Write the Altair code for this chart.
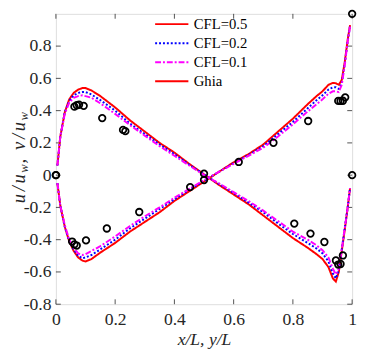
import altair as alt
import pandas as pd

# shared abscissa of the simulated profiles
grid_x = [0.005, 0.015, 0.03, 0.045, 0.06, 0.075, 0.09, 0.1, 0.12, 0.15, 0.2, 0.25, 0.3,
          0.35, 0.4, 0.45, 0.5, 0.55, 0.6, 0.65, 0.7, 0.75, 0.8, 0.85, 0.88, 0.9, 0.92,
          0.935, 0.945, 0.955, 0.965, 0.975, 0.985, 0.993]

u_cfl05 = [-0.05, -0.19, -0.32, -0.41, -0.47, -0.51, -0.53, -0.535, -0.52, -0.48, -0.42, -0.35,
           -0.29, -0.23, -0.16, -0.10, -0.04, 0.02, 0.08, 0.13, 0.19, 0.27, 0.35, 0.44, 0.49,
           0.52, 0.56, 0.572, 0.57, 0.56, 0.59, 0.70, 0.84, 0.93]
v_cfl05 = [0.06, 0.24, 0.39, 0.47, 0.51, 0.53, 0.54, 0.54, 0.525, 0.49, 0.42, 0.34, 0.27, 0.20,
           0.14, 0.07, 0.005, -0.06, -0.12, -0.18, -0.25, -0.32, -0.39, -0.45, -0.49, -0.52,
           -0.57, -0.64, -0.66, -0.60, -0.47, -0.34, -0.20, -0.08]

u_cfl02 = [-0.05, -0.19, -0.32, -0.41, -0.46, -0.50, -0.515, -0.51, -0.495, -0.46, -0.40, -0.33,
           -0.27, -0.21, -0.15, -0.09, -0.035, 0.02, 0.075, 0.125, 0.18, 0.255, 0.33, 0.415,
           0.465, 0.495, 0.53, 0.545, 0.545, 0.535, 0.57, 0.69, 0.83, 0.925]
v_cfl02 = [0.06, 0.24, 0.39, 0.46, 0.495, 0.51, 0.515, 0.515, 0.50, 0.465, 0.40, 0.32, 0.255,
           0.19, 0.13, 0.065, 0.005, -0.055, -0.11, -0.17, -0.23, -0.30, -0.365, -0.42, -0.455,
           -0.485, -0.535, -0.61, -0.64, -0.59, -0.46, -0.33, -0.20, -0.08]

u_cfl01 = [-0.05, -0.19, -0.31, -0.40, -0.45, -0.485, -0.495, -0.49, -0.47, -0.44, -0.38, -0.315,
           -0.255, -0.20, -0.14, -0.085, -0.03, 0.02, 0.07, 0.12, 0.17, 0.24, 0.315, 0.395,
           0.44, 0.47, 0.505, 0.52, 0.52, 0.515, 0.56, 0.68, 0.83, 0.92]
v_cfl01 = [0.06, 0.24, 0.38, 0.45, 0.48, 0.49, 0.495, 0.49, 0.48, 0.445, 0.38, 0.31, 0.245,
           0.18, 0.12, 0.06, 0.0, -0.05, -0.105, -0.16, -0.22, -0.285, -0.35, -0.40, -0.435,
           -0.465, -0.51, -0.58, -0.615, -0.58, -0.46, -0.33, -0.20, -0.08]

# Ghia reference points
ghia_y = [1.0, 0.9766, 0.9688, 0.9609, 0.9531, 0.8516, 0.7344, 0.6172, 0.5, 0.4531, 0.2813,
          0.1719, 0.1016, 0.0703, 0.0625, 0.0547, 0.0]
ghia_u = [1.0, 0.48223, 0.46120, 0.45992, 0.46036, 0.33556, 0.20087, 0.08183, -0.03039,
          -0.07404, -0.22855, -0.33050, -0.40435, -0.43643, -0.42901, -0.41165, 0.0]
ghia_x = [1.0, 0.9688, 0.9609, 0.9531, 0.9453, 0.9063, 0.8594, 0.8047, 0.5, 0.2344, 0.2266,
          0.1563, 0.0938, 0.0781, 0.0703, 0.0625, 0.0]
ghia_v = [0.0, -0.49774, -0.55069, -0.55408, -0.52876, -0.41442, -0.36214, -0.30018, 0.00945,
          0.27280, 0.28066, 0.35368, 0.42951, 0.43648, 0.43329, 0.42447, 0.0]

series_names = ["CFL=0.5", "CFL=0.2", "CFL=0.1", "Ghia"]
series_colors = ["#ff0000", "#0000ff", "#ff00ff", "#ff0000"]
series_dashes = [[1, 0], [2, 2], [6, 2, 2, 2], [1, 0]]

x_ticks = [0, 0.2, 0.4, 0.6, 0.8, 1]
y_ticks = [-0.8, -0.6, -0.4, -0.2, 0, 0.2, 0.4, 0.6, 0.8]

# y-axis title "u/u_w, v/u_w" written glyph by glyph (subscripts smaller)
ytitle_glyphs = ["u", "/", "u", "w", ",", "v", "/", "u", "w"]
ytitle_is_sub = [False, False, False, True, False, False, False, False, True]

W, H = 303, 297
FONT = "Times New Roman, Liberation Serif, serif"
AXC = "#262626"

rows = []
for name, us, vs in [("CFL=0.5", u_cfl05, v_cfl05), ("CFL=0.2", u_cfl02, v_cfl02),
                     ("CFL=0.1", u_cfl01, v_cfl01)]:
    for xi, ui, vi in zip(grid_x, us, vs):
        rows.append({"x": xi, "val": ui, "series": name, "profile": "u"})
        rows.append({"x": xi, "val": vi, "series": name, "profile": "v"})
lines_df = pd.DataFrame(rows)

ghia_df = pd.DataFrame({"x": ghia_y + ghia_x, "val": ghia_u + ghia_v})
xt_df = pd.DataFrame({"x": x_ticks})
yt_df = pd.DataFrame({"val": y_ticks})

x_axis = alt.Axis(values=x_ticks, ticks=False, domain=False, grid=False, labelFlush=False,
                  labelExpr="'' + datum.value", labelFont=FONT, labelFontSize=18,
                  labelColor=AXC, labelPadding=7, title="x/L, y/L", titleFont=FONT,
                  titleFontSize=18, titleFontStyle="italic", titleFontWeight="normal",
                  titleColor=AXC, titlePadding=2)
y_axis = alt.Axis(values=y_ticks, ticks=False, domain=False, grid=False, labelFlush=False,
                  labelExpr="'' + datum.value", labelFont=FONT, labelFontSize=18,
                  labelColor=AXC, labelPadding=5, title="")

xs = alt.Scale(domain=[0, 1], nice=False, zero=False)
ys = alt.Scale(domain=[-0.8, 1], nice=False, zero=False)
X = alt.X("x:Q", scale=xs, axis=x_axis)
Y = alt.Y("val:Q", scale=ys, axis=y_axis)

leg = alt.Legend(title=None, orient="none", legendX=109, legendY=1, symbolType="M-2,0H2",
                 symbolSize=289, symbolStrokeWidth=2, labelFont=FONT, labelFontSize=15,
                 labelColor="#000000", rowPadding=1.5, labelOffset=13, padding=0)
color = alt.Color("series:N", scale=alt.Scale(domain=series_names, range=series_colors),
                  legend=leg)
dash = alt.StrokeDash("series:N", scale=alt.Scale(domain=series_names, range=series_dashes),
                      legend=leg)

layers = []
for name in ["CFL=0.5", "CFL=0.2", "CFL=0.1"]:
    layers.append(
        alt.Chart(lines_df).transform_filter(alt.datum.series == name)
        .mark_line(strokeWidth=2)
        .encode(x=X, y=Y, color=color, strokeDash=dash, detail="profile:N", order="x:Q")
    )

pts = alt.Chart(ghia_df).mark_point(shape="circle", filled=False, size=45, strokeWidth=1.8,
                                    color="#000000", opacity=1).encode(x=X, y=Y)

tick_len = 5
xb = alt.Chart(xt_df).mark_rule(color=AXC, strokeWidth=0.8).encode(
    x=X, y=alt.value(H), y2=alt.value(H - tick_len))
xt = alt.Chart(xt_df).mark_rule(color=AXC, strokeWidth=0.8).encode(
    x=X, y=alt.value(0), y2=alt.value(tick_len))
yl = alt.Chart(yt_df).mark_rule(color=AXC, strokeWidth=0.8).encode(
    y=Y, x=alt.value(0), x2=alt.value(tick_len))
yr = alt.Chart(yt_df).mark_rule(color=AXC, strokeWidth=0.8).encode(
    y=Y, x=alt.value(W), x2=alt.value(W - tick_len))

# rotated y title, laid out glyph by glyph along the left margin
title_marks = []
pos = 195.0
main_fs, sub_fs = 19, 13
adv = {"u": 0.62, "/": 0.45, "w": 0.72, ",": 0.3, "v": 0.55}
gap_after = {",": 0.4}
for g, is_sub in zip(ytitle_glyphs, ytitle_is_sub):
    fs = sub_fs if is_sub else main_fs
    width = adv[g] * fs
    centre = pos - width / 2
    title_marks.append(
        alt.Chart(pd.DataFrame({"t": [g]})).mark_text(
            angle=270, align="center", baseline="alphabetic", font=FONT,
            fontStyle="italic", fontSize=fs, color=AXC
        ).encode(text="t:N", x=alt.value(-29 if is_sub else -32), y=alt.value(centre))
    )
    pos -= width + gap_after.get(g, 0) * fs

chart = alt.layer(xb, xt, yl, yr, *layers, pts, *title_marks).properties(
    width=W, height=H,
    autosize=alt.AutoSizeParams(type="none"),
    padding={"left": 49, "top": 2, "right": 6, "bottom": 49},
).configure_view(
    stroke=AXC, strokeWidth=0.8
).configure_axis(
    labelFont=FONT, titleFont=FONT
).configure_legend(
    labelFont=FONT
).configure(background="white")

chart.save("out.html", embed_options={"renderer": "svg", "actions": False})
